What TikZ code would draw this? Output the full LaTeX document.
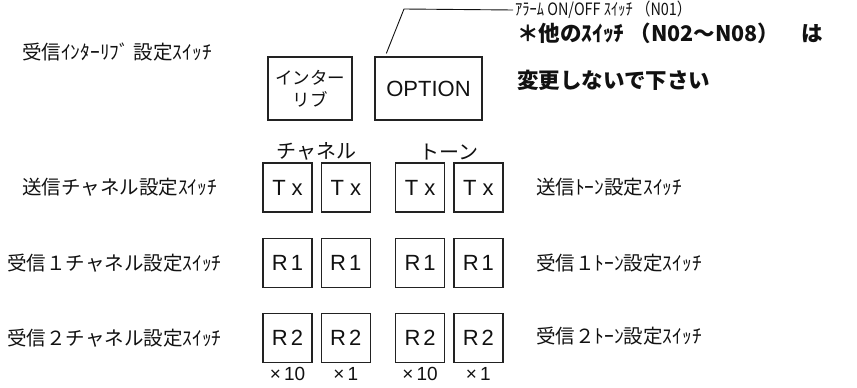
\documentclass[tikz,border=0pt]{standalone}
\usepackage{fontspec}
\setmainfont{Liberation Sans}
\newfontfamily\jpfont{Noto Sans CJK JP}
\newfontfamily\jpnarrow[FakeStretch=0.85]{Noto Sans CJK JP}
\usepackage{tikz}
\usetikzlibrary{positioning}
\usepackage{xcolor}
\definecolor{inkblack}{HTML}{111111}
\definecolor{boxline}{HTML}{222222}

\begin{document}
\begin{tikzpicture}[x=1pt, y=-1pt,
  swbox/.style={draw=boxline, line width=1.3pt, minimum width=49pt, minimum height=49pt, inner sep=0pt, font=\fontsize{22}{24}\selectfont, text=inkblack},
  widebox/.style={swbox, minimum height=63pt},
  sidelbl/.style={anchor=west, inner sep=0pt, font=\jpfont\fontsize{19.5}{22}\selectfont, text=inkblack},
  grouplbl/.style={inner sep=1pt, font=\jpfont\fontsize{20}{22}\selectfont, text=inkblack},
  multlbl/.style={inner sep=1pt, font=\fontsize{19}{21}\selectfont, text=inkblack},
  notelbl/.style={anchor=west, inner sep=0pt, font=\jpfont\bfseries\fontsize{21.5}{24}\selectfont, text=inkblack},
  lead/.style={draw=inkblack, line width=0.9pt}]
\useasboundingbox (0,0) rectangle (857,388);

% top row: interleave and option switches
\node[widebox, minimum width=84pt, font=\jpfont\fontsize{17.5}{22}\selectfont, align=center] (ilv) at (310,88.5) {インター\\リブ};
\node[widebox, minimum width=107pt] (opt) at (428.5,88.5) {OPTION};
\node[sidelbl] (ilvlbl) at (22,52) {受信ｲﾝﾀｰﾘﾌﾞ 設定ｽｲｯﾁ};

% alarm switch note
\node[anchor=west, inner sep=0pt, font=\jpnarrow\fontsize{17}{19}\selectfont, text=inkblack] (alarm) at (515,10) {ｱﾗｰﾑ ON/OFF ｽｲｯﾁ （N01）};
\coordinate (kink) at (404,9);
\draw[lead] ([xshift=12pt, yshift=3pt]opt.north west) -- (kink) -- ([xshift=-2pt]alarm.west);
\node[notelbl] (other) at (517,33) {＊他のｽｲｯﾁ （N02～N08）\hspace{22pt}は};
\node[notelbl] (keep) at (517,80) {変更しないで下さい};

% Tx row
\node[swbox] (tx1) at (287.5,187.5) {T\hspace{6pt}x};
\node[swbox, right=8pt of tx1] (tx2) {T\hspace{6pt}x};
\node[swbox, right=24pt of tx2] (tx3) {T\hspace{6pt}x};
\node[swbox, right=8pt of tx3] (tx4) {T\hspace{6pt}x};
\node[grouplbl, above=1pt of tx1.north east, xshift=4pt] (chan) {チャネル};
\node[grouplbl, above=1pt of tx3.north east, xshift=4pt] (tone) {トーン};
\node[sidelbl] (txchlbl) at (22,187.5) {送信チャネル設定ｽｲｯﾁ};
\node[sidelbl] (txtnlbl) at (536,187.5) {送信ﾄｰﾝ設定ｽｲｯﾁ};

% R1 row
\node[swbox, below=25pt of tx1] (ra1) {R\hspace{3pt}1};
\node[swbox, below=25pt of tx2] (ra2) {R\hspace{3pt}1};
\node[swbox, below=25pt of tx3] (ra3) {R\hspace{3pt}1};
\node[swbox, below=25pt of tx4] (ra4) {R\hspace{3pt}1};
\node[sidelbl] (rachlbl) at (7,263) {受信１チャネル設定ｽｲｯﾁ};
\node[sidelbl] (ratnlbl) at (536,263) {受信１ﾄｰﾝ設定ｽｲｯﾁ};

% R2 row
\node[swbox, below=25pt of ra1] (rb1) {R\hspace{3pt}2};
\node[swbox, below=25pt of ra2] (rb2) {R\hspace{3pt}2};
\node[swbox, below=25pt of ra3] (rb3) {R\hspace{3pt}2};
\node[swbox, below=25pt of ra4] (rb4) {R\hspace{3pt}2};
\node[sidelbl] (rbchlbl) at (7,338.5) {受信２チャネル設定ｽｲｯﾁ};
\node[sidelbl] (rbtnlbl) at (536,336) {受信２ﾄｰﾝ設定ｽｲｯﾁ};

% digit weights
\node[multlbl, below=3pt of rb1] (m1) {×\,10};
\node[multlbl, below=3pt of rb2] (m2) {×\,1};
\node[multlbl, below=3pt of rb3] (m3) {×\,10};
\node[multlbl, below=3pt of rb4] (m4) {×\,1};
\end{tikzpicture}
\end{document}
